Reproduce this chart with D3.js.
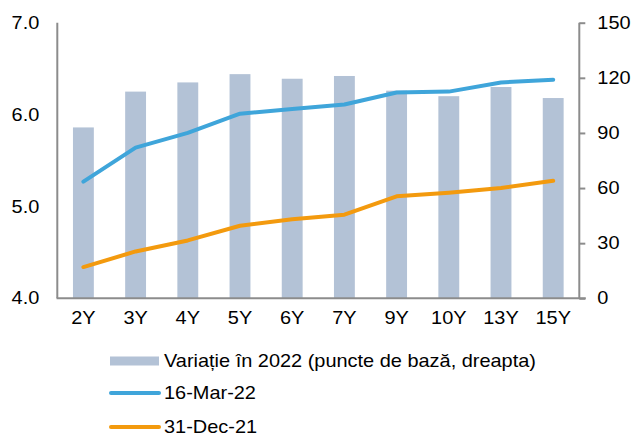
<!DOCTYPE html>
<head>
<meta charset="utf-8">
<title></title>
<style>
body { margin: 0; background: #fff; }
text {
  fill: #000;
  font-family: "Liberation Sans", Arial, sans-serif;
  font-size: 17.5px;
}
.axis path, .axis line { stroke: #8c8c8c; stroke-width: 2px; }
</style>
</head>
<body>
<script src="https://cdn.jsdelivr.net/npm/d3@7/dist/d3.min.js"></script>
<script>

var tenors = ["2Y", "3Y", "4Y", "5Y", "6Y", "7Y", "9Y", "10Y", "13Y", "15Y"];
var change2022 = [93, 112.5, 117.5, 122, 119.5, 121, 113, 110, 115, 109];
var mar16 = [5.27, 5.64, 5.80, 6.01, 6.06, 6.11, 6.24, 6.25, 6.35, 6.38];
var dec31 = [4.34, 4.51, 4.63, 4.79, 4.86, 4.91, 5.11, 5.15, 5.20, 5.28];
var leftTicks = [4, 5, 6, 7];
var rightTicks = [0, 30, 60, 90, 120, 150];
var legendLabels = ["Variație în 2022 (puncte de bază, dreapta)", "16-Mar-22", "31-Dec-21"];

var width = 631,
    height = 434;

var barColor = "#b3c2d6",
    blue = "#3fa5da",
    orange = "#f39a0e";

// the source text looks horizontally stretched
var sx = 1.14;

var svg = d3.select("body").append("svg")
    .attr("width", width)
    .attr("height", height);

var plotLeft = 57.3, plotRight = 579.3, plotTop = 22.7, plotBottom = 298.3;

var x = d3.scaleBand()
    .domain(tenors)
    .range([plotLeft, plotRight])
    .paddingInner(0.6)
    .paddingOuter(0.3);

var yL = d3.scaleLinear().domain([4, 7]).range([plotBottom, plotTop]);
var yR = d3.scaleLinear().domain([0, 150]).range([plotBottom, plotTop]);

function stretch(sel) {
  sel.each(function() {
    var t = d3.select(this);
    var xv = +t.attr("x") || 0;
    t.attr("x", xv / sx).attr("transform", "scale(" + sx + ",1)");
  });
}

// bars on the right axis
svg.append("g")
  .selectAll("rect")
  .data(change2022)
  .enter()
  .append("rect")
  .attr("x", function(d, i) { return x(tenors[i]); })
  .attr("width", x.bandwidth())
  .attr("y", function(d) { return yR(d); })
  .attr("height", function(d) { return yR(0) - yR(d); })
  .style("fill", barColor);

// axes
var gL = svg.append("g")
    .attr("class", "axis")
    .attr("transform", "translate(" + plotLeft + ",0)")
    .call(d3.axisLeft(yL).tickValues(leftTicks).tickSize(0).tickPadding(18)
      .tickFormat(d3.format(".1f")));
gL.select(".domain").attr("d", "M0," + plotTop + "V" + plotBottom);

var gR = svg.append("g")
    .attr("class", "axis")
    .attr("transform", "translate(" + plotRight + ",0)")
    .call(d3.axisRight(yR).tickValues(rightTicks).tickSize(6).tickPadding(12));
gR.select(".domain").attr("d", "M0," + plotTop + "V" + plotBottom);

var gB = svg.append("g")
    .attr("class", "axis")
    .attr("transform", "translate(0," + plotBottom + ")")
    .call(d3.axisBottom(x).tickSize(0).tickPadding(13));
gB.select(".domain").attr("d", "M" + (plotLeft - 0.7) + ",0H" + (plotRight + 6.5));

svg.selectAll(".axis text")
    .style("font-size", "17.5px")
    .style("font-family", "\"Liberation Sans\", Arial, sans-serif")
    .attr("fill", "#000")
    .call(stretch);

// lines on the left axis
var line = d3.line()
    .x(function(d, i) { return x(tenors[i]) + x.bandwidth() / 2; })
    .y(function(d) { return yL(d); });

[[dec31, orange], [mar16, blue]].forEach(function(s) {
  svg.append("path")
    .datum(s[0])
    .attr("d", line)
    .style("fill", "none")
    .style("stroke", s[1])
    .style("stroke-width", 4)
    .style("stroke-linecap", "round")
    .style("stroke-linejoin", "round");
});

// legend
var legendY = [361, 393, 427];
var lg = svg.append("g");

lg.append("rect")
  .attr("x", 110).attr("y", legendY[0] - 4.5)
  .attr("width", 49).attr("height", 9)
  .style("fill", barColor);

[blue, orange].forEach(function(c, i) {
  lg.append("line")
    .attr("x1", 111).attr("x2", 159)
    .attr("y1", legendY[i + 1]).attr("y2", legendY[i + 1])
    .style("stroke", c)
    .style("stroke-width", 4)
    .style("stroke-linecap", "round");
});

lg.selectAll("text.lab")
  .data(legendLabels)
  .enter()
  .append("text")
  .attr("class", "lab")
  .attr("x", 164)
  .attr("y", function(d, i) { return legendY[i]; })
  .attr("dy", "0.35em")
  .text(function(d) { return d; })
  .call(stretch);

</script>
</body>
</html>
